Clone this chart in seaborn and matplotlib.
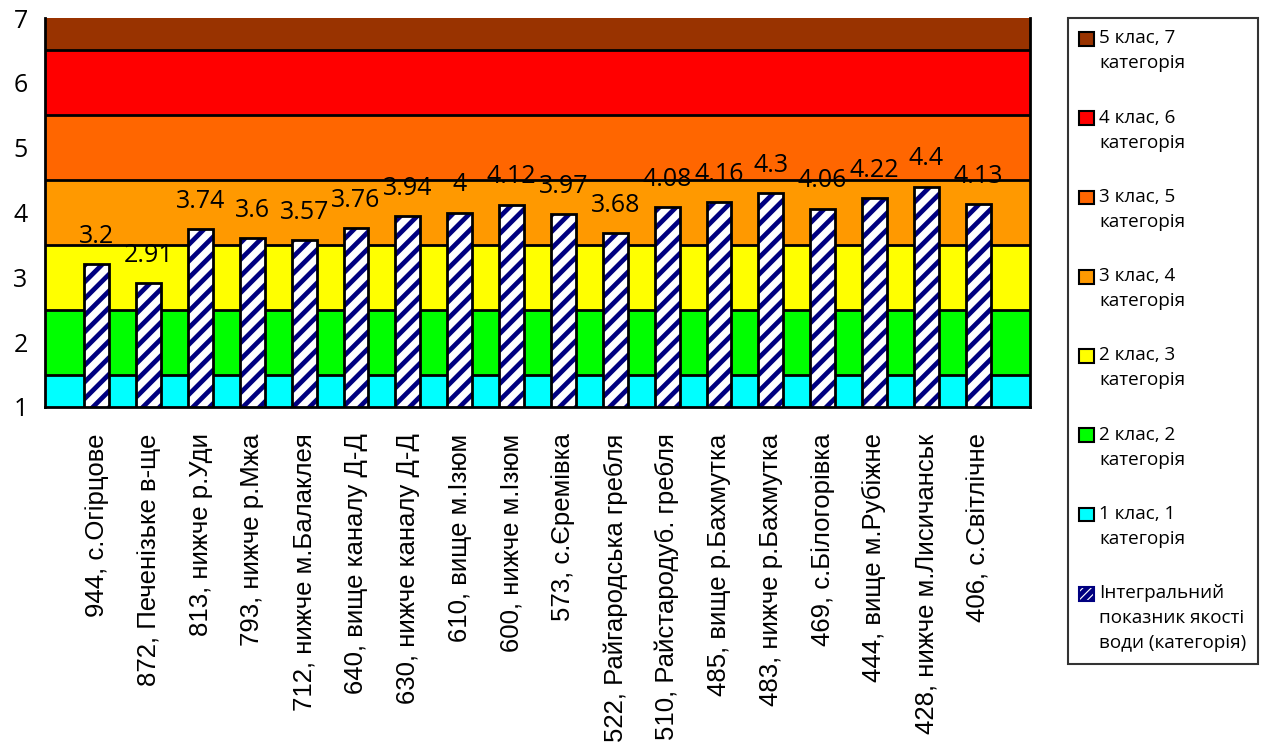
import numpy as np
import pandas as pd
import seaborn as sns
from matplotlib import pyplot as plt
from matplotlib.patches import Patch, Rectangle
from matplotlib.legend_handler import HandlerPatch

# створи (пункти спостереження) та інтегральний показник
posts = ['944, с.Огірцове', '872, Печенізьке в-ще', '813, нижче р.Уди',
         '793, нижче р.Мжа', '712, нижче м.Балаклея', '640, вище каналу Д-Д',
         '630, нижче каналу Д-Д', '610, вище м.Ізюм', '600, нижче м.Ізюм',
         '573, с.Єремівка', '522, Райгародська гребля',
         '510, Райстародуб. гребля', '485, вище р.Бахмутка',
         '483, нижче р.Бахмутка', '469, с.Білогорівка', '444, вище м.Рубіжне',
         '428, нижче м.Лисичанськ', '406, с.Світлічне']
index_values = [3.2, 2.91, 3.74, 3.6, 3.57, 3.76, 3.94, 4, 4.12, 3.97, 3.68,
                4.08, 4.16, 4.3, 4.06, 4.22, 4.4, 4.13]

# межі класів / категорій якості
band_edges = [1, 1.5, 2.5, 3.5, 4.5, 5.5, 6.5, 7]
band_colors = ['#00FFFF', '#00FF00', '#FFFF00', '#FF9900', '#FF6600',
               '#FF0000', '#993300']
band_labels = ['1 клас, 1\nкатегорія', '2 клас, 2\nкатегорія',
               '2 клас, 3\nкатегорія', '3 клас, 4\nкатегорія',
               '3 клас, 5\nкатегорія', '4 клас, 6\nкатегорія',
               '5 клас, 7\nкатегорія']
series_label = 'Інтегральний\nпоказник якості\nводи (категорія)'


def top_handler(shift):
    # маркер легенди на рівні першого рядка підпису
    def patch_func(legend, orig_handle, xdescent, ydescent, width, height,
                   fontsize):
        return Rectangle((-xdescent, -ydescent + shift), width, height)
    return HandlerPatch(patch_func=patch_func)


if __name__ == '__main__':
    sns.set_style('white')
    plt.rcParams['font.family'] = ['Open Sans', 'DejaVu Sans']
    plt.rcParams['text.color'] = 'black'
    plt.rcParams['xtick.color'] = 'black'
    plt.rcParams['ytick.color'] = 'black'
    plt.rcParams['hatch.linewidth'] = 3.4

    df = pd.DataFrame({'post': posts, 'value': index_values})

    fig = plt.figure(figsize=(12.64, 7.56), dpi=100)
    ax = fig.add_axes([45 / 1264, 1 - 407 / 756, 985 / 1264, 389 / 756])

    # кольорові смуги класів
    for lo, hi, c in zip(band_edges[:-1], band_edges[1:], band_colors):
        ax.axhspan(lo, hi, color=c, lw=0, zorder=0)
    for y in band_edges[1:-1]:
        ax.axhline(y, color='black', lw=2, zorder=1)

    # стовпчики: штрихування + чорний контур
    sns.barplot(data=df, x='post', y='value', color='white', saturation=1,
                edgecolor='#000080', hatch='//', linewidth=0, width=0.48,
                ax=ax, zorder=2)
    sns.barplot(data=df, x='post', y='value', fill=False, saturation=1,
                edgecolor='black', linewidth=2, width=0.48, ax=ax, zorder=3)

    ax.bar_label(ax.containers[0],
                 labels=[f'{v:g}' for v in index_values],
                 padding=11, fontsize=18, color='black')

    ax.set_ylim(1, 7)
    ax.set_xlim(-1, len(posts))
    ax.set_yticks(range(1, 8))
    ax.set_xticks(range(-1, len(posts) + 1))
    ax.set_xticklabels([''] + posts + [''], rotation=90,
                       family=['Liberation Sans', 'DejaVu Sans'], fontsize=18.5)
    ax.tick_params(axis='y', labelsize=18, direction='inout', length=13,
                   width=2, pad=6)
    ax.tick_params(axis='x', direction='inout', length=14, width=2, pad=12)
    ax.set_xlabel('')
    ax.set_ylabel('')
    for s in ['left', 'bottom', 'right']:
        ax.spines[s].set_color('black')
        ax.spines[s].set_linewidth(2)
    ax.spines['top'].set_visible(False)

    handles = [Patch(facecolor=c, edgecolor='black', lw=1.5)
               for c in band_colors[::-1]]
    handles.append(Patch(facecolor='white', edgecolor='#000080', hatch='////',
                         lw=1.5))
    labels = band_labels[::-1] + [series_label]
    line_pt = 17.8
    hmap = {h: top_handler((lab.count('\n')) / 2 * line_pt)
            for h, lab in zip(handles, labels)}
    leg = fig.legend(handles, labels, loc='upper left',
                     bbox_to_anchor=(1068 / 1264, 1 - 18 / 756),
                     frameon=True, fancybox=False, edgecolor='black',
                     fontsize=13.6, handlelength=0.75, handleheight=0.75,
                     handletextpad=0.3, labelspacing=1.92, borderpad=0.6,
                     borderaxespad=0, alignment='left', handler_map=hmap)
    leg.get_frame().set_linewidth(1.5)
    for t in leg.get_texts():
        t.set_linespacing(1.5)

    fig.savefig('out.png', dpi=100)
